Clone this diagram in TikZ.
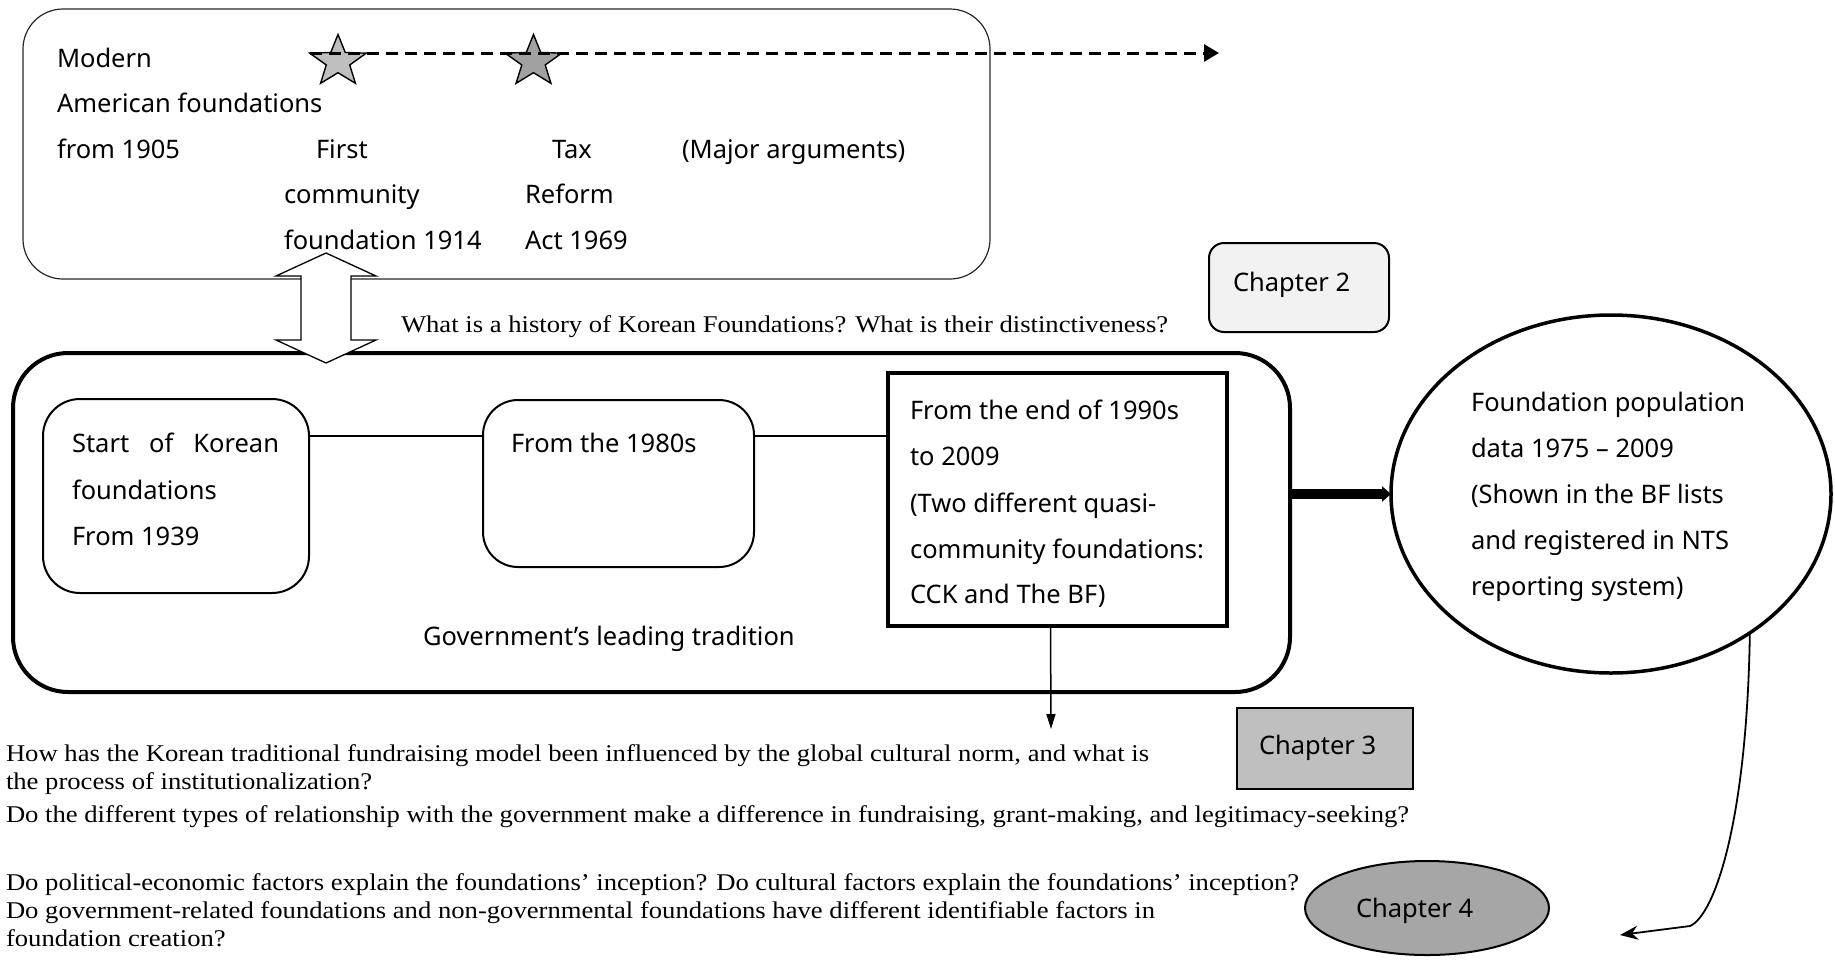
\documentclass[tikz,border=0pt]{standalone}
\usepackage{fontspec}
\setmainfont{Noto Sans}
\newfontfamily\qfont{Liberation Serif}[FakeStretch=1.11]
\usetikzlibrary{arrows.meta,shapes.geometric}

\tikzset{
  pics/fivestar/.style={code={
    \draw[line width=1.4pt, fill=#1]
      (-90:27) -- (-54:11.2) -- (-18:27) -- (18:11.2) -- (54:27) -- (90:11.2)
      -- (126:27) -- (162:11.2) -- (198:27) -- (234:11.2) -- cycle;}},
}

\begin{document}
\begin{tikzpicture}[x=1pt,y=-1pt,
  every node/.style={inner sep=0pt, outer sep=0pt},
  lbl/.style={anchor=base west, font=\fontsize{25.5}{30}\selectfont},
  qtext/.style={anchor=base west, font=\qfont\fontsize{24}{29}\selectfont},
  boxnw/.style={anchor=north west, draw, minimum width=#1},
  link/.style={line width=1.5pt},
]
\useasboundingbox (0,0) rectangle (1835,959);

% ---------- American foundations panel ----------
\node[boxnw=967pt, minimum height=270pt, rounded corners=40pt,
      line width=1.2pt, draw=black!85] (topbox) at (23,9) {};
\pic at (338,61.5) [xscale=1.1] {fivestar=black!25};
\pic at (533.5,61.5) [xscale=1.1] {fivestar=black!37};
\coordinate (tlstart) at (310,53);
\coordinate (tlend) at (1219,53);
\draw[line width=3pt, dash pattern=on 12pt off 7pt,
      -{Triangle[length=15pt,width=17pt]}] (tlstart) -- (tlend);

\node[lbl] (t1) at (57,67) {Modern};
\node[lbl] (t2) at (57,112.5) {American foundations};
\node[lbl] (t3) at (57,158) {from 1905};
\node[lbl] (t4) at (316,158) {First};
\node[lbl] (t5) at (284,203.5) {community};
\node[lbl] (t6) at (284,249) {foundation 1914};
\node[lbl] (t7) at (552,158) {Tax};
\node[lbl] (t8) at (525,203.5) {Reform};
\node[lbl] (t9) at (525,249) {Act 1969};
\node[lbl] (t10) at (682,158) {(Major arguments)};

% ---------- Chapter 2 ----------
\node[boxnw=180pt, minimum height=89pt, rounded corners=15pt,
      line width=2pt, fill=black!5] (ch2) at (1209,243) {};
\node[lbl] (ch2t) at (1233,291) {Chapter 2};

\node[qtext] (q0) at (401,332)
  {What is a history of Korean Foundations? What is their distinctiveness?};

% ---------- Korean foundations panel ----------
\node[boxnw=1277pt, minimum height=339pt, rounded corners=55pt,
      line width=4pt] (main) at (13,353) {};
\node[boxnw=266pt, minimum height=194pt, rounded corners=37pt,
      line width=2pt] (b1) at (43,399) {};
\node[boxnw=271pt, minimum height=167pt, rounded corners=35pt,
      line width=2pt] (b2) at (483,400) {};
\node[boxnw=339pt, minimum height=253pt, line width=4pt] (b3) at (888,373) {};

\draw[link] ([yshift=-37pt]b1.north east) -- ([yshift=-36pt]b2.north west);
\draw[link] ([yshift=-36pt]b2.north east) -- ([yshift=-63pt]b3.north west);

\node[lbl] (b1a) at (72,452) {\hbox to 207pt{Start\hfil of\hfil Korean}};
\node[lbl] (b1b) at (72,499) {foundations};
\node[lbl] (b1c) at (72,545) {From 1939};
\node[lbl] (b2a) at (511,452) {From the 1980s};
\node[lbl] (b3a) at (910,419) {From the end of 1990s};
\node[lbl] (b3b) at (910,465) {to 2009};
\node[lbl] (b3c) at (910,512) {(Two different quasi-};
\node[lbl] (b3d) at (910,558) {community foundations:};
\node[lbl] (b3e) at (910,603) {CCK and The BF)};
\node[lbl] (gov) at (423,645) {Government’s leading tradition};

% two-way block arrow between the panels
\draw[line width=1.3pt, fill=white]
  (326,253) -- (376,276) -- (351,276) -- (351,340) -- (376,340) -- (326,363)
  -- (276,340) -- (301,340) -- (301,276) -- (276,276) -- cycle;

% ---------- population data ----------
\node[ellipse, draw, line width=3.5pt, minimum width=440pt, minimum height=358pt]
  (fe) at (1611,494) {};
\node[lbl] (fe1) at (1471,411) {Foundation population};
\node[lbl] (fe2) at (1471,457) {data 1975 – 2009};
\node[lbl] (fe3) at (1471,503) {(Shown in the BF lists};
\node[lbl] (fe4) at (1471,549) {and registered in NTS};
\node[lbl] (fe5) at (1471,595) {reporting system)};

\draw[line width=10pt, -{Triangle[length=9pt,width=15pt]}]
  (main.east |- fe.west) -- (fe.west);

% ---------- Chapter 3 ----------
\coordinate (a3end) at (1051,729);
\draw[line width=1.5pt, -{Triangle[length=15pt,width=9pt]}]
  ([xshift=-7pt]b3.south) -- (a3end);

\node[boxnw=176pt, minimum height=81pt, line width=2.2pt, fill=black!25] (ch3) at (1237,708) {};
\node[lbl] (ch3t) at (1259,754) {Chapter 3};

\node[qtext] (q1) at (6,761) {How has the Korean traditional fundraising model been influenced by the global cultural norm, and what is};
\node[qtext] (q2) at (6,789) {the process of institutionalization?};
\node[qtext] (q3) at (6,822) {Do the different types of relationship with the government make a difference in fundraising, grant-making, and legitimacy-seeking?};
\node[qtext] (q4) at (6,890) {Do political-economic factors explain the foundations’ inception? Do cultural factors explain the foundations’ inception?};
\node[qtext] (q5) at (6,918) {Do government-related foundations and non-governmental foundations have different identifiable factors in};
\node[qtext] (q6) at (6,946) {foundation creation?};

% ---------- Chapter 4 ----------
\node[ellipse, draw, line width=2pt, fill=black!35, minimum width=244pt, minimum height=94pt]
  (ch4) at (1427,908) {};
\node[lbl] (ch4t) at (1356,917) {Chapter 4};

\coordinate (c4tip) at (1620,935);
\draw[line width=1.8pt, -{Stealth[length=18pt,width=14pt]}]
  (fe.-45.8) .. controls (1747,820) and (1715,915) .. (1690,926) -- (c4tip);
\end{tikzpicture}
\end{document}
